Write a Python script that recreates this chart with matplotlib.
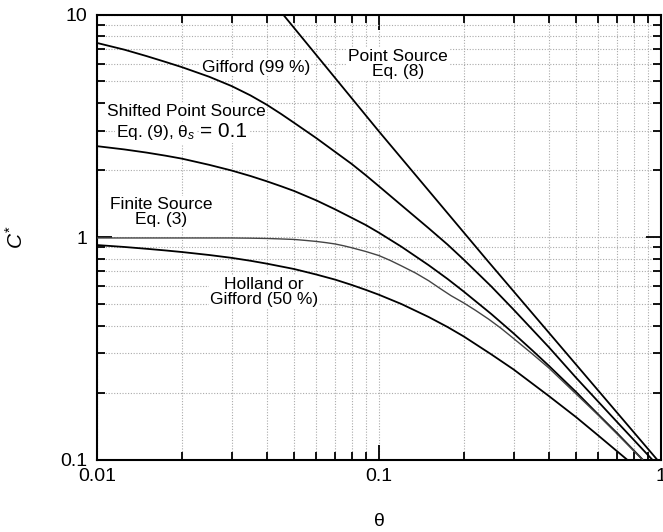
import numpy as np
import matplotlib
matplotlib.use("Agg")
import matplotlib.pyplot as plt
from matplotlib.ticker import LogLocator, NullFormatter

plt.rcParams['font.family'] = ['Liberation Sans', 'DejaVu Sans']
plt.rcParams['mathtext.fontset'] = 'custom'
plt.rcParams['mathtext.rm'] = 'Liberation Sans'
plt.rcParams['mathtext.it'] = 'Liberation Sans:italic'

# values (theta, C*)
point_theta = [0.0457, 0.1, 0.241, 0.968]
point_c = [10.0, 2.98, 0.79, 0.1]

gifford99_theta = [0.01, 0.0125, 0.015, 0.0175, 0.02, 0.025, 0.03, 0.035, 0.04, 0.045, 0.05,
                   0.06, 0.07, 0.08, 0.09, 0.1, 0.12, 0.15, 0.175, 0.2, 0.25, 0.3, 0.4, 0.5,
                   0.7, 0.93]
gifford99_c = [7.45, 6.95, 6.5, 6.12, 5.8, 5.25, 4.77, 4.33, 3.93, 3.57, 3.26,
               2.78, 2.41, 2.13, 1.89, 1.69, 1.39, 1.095, 0.925, 0.79, 0.6, 0.472, 0.32, 0.233,
               0.147, 0.1]

shifted_theta = [0.01, 0.0125, 0.015, 0.0175, 0.02, 0.025, 0.03, 0.035, 0.04, 0.045, 0.05,
                 0.06, 0.07, 0.08, 0.09, 0.1, 0.12, 0.15, 0.175, 0.2, 0.25, 0.3, 0.35, 0.4,
                 0.5, 0.6, 0.7, 0.86]
shifted_c = [2.56, 2.475, 2.395, 2.32, 2.25, 2.11, 1.99, 1.88, 1.78, 1.69, 1.61,
             1.46, 1.33, 1.22, 1.13, 1.045, 0.905, 0.747, 0.648, 0.568, 0.451, 0.369, 0.309,
             0.264, 0.201, 0.159, 0.131, 0.1]

finite_theta = [0.01, 0.02, 0.03, 0.035, 0.04, 0.045, 0.05, 0.055, 0.06, 0.065, 0.07, 0.075,
                0.08, 0.09, 0.1, 0.11, 0.12, 0.135, 0.15, 0.165, 0.18, 0.2, 0.22, 0.245, 0.27,
                0.3, 0.35, 0.4, 0.5, 0.6, 0.7, 0.86]
finite_c = [0.99, 0.99, 0.99, 0.988, 0.985, 0.98, 0.975, 0.965, 0.955, 0.943, 0.93, 0.913,
            0.895, 0.86, 0.825, 0.783, 0.742, 0.688, 0.636, 0.586, 0.545, 0.505, 0.468, 0.427,
            0.39, 0.35, 0.298, 0.258, 0.197, 0.158, 0.13, 0.1]

holland_theta = [0.01, 0.0125, 0.015, 0.0175, 0.02, 0.025, 0.03, 0.035, 0.04, 0.05, 0.06,
                 0.07, 0.08, 0.09, 0.1, 0.12, 0.15, 0.175, 0.2, 0.25, 0.3, 0.4, 0.5, 0.6, 0.757]
holland_c = [0.92, 0.902, 0.885, 0.87, 0.856, 0.83, 0.806, 0.782, 0.759, 0.718, 0.678,
             0.643, 0.609, 0.578, 0.55, 0.5, 0.437, 0.394, 0.357, 0.297, 0.254, 0.193, 0.155,
             0.128, 0.1]

xticks = [0.01, 0.1, 1]
xtick_labels = ['0.01', '0.1', '1']
yticks = [0.1, 1, 10]
ytick_labels = ['0.1', '1', '10']

fig = plt.figure(figsize=(6.63, 5.32), dpi=100)
ax = fig.add_axes([97 / 663, 1 - 459.5 / 532, (661 - 97) / 663, (459.5 - 14.5) / 532])
ax.set_xscale('log')
ax.set_yscale('log')
ax.set_xlim(0.01, 1)
ax.set_ylim(0.1, 10)

lw = 1.3
ax.plot(point_theta, point_c, color='black', lw=lw, zorder=3)
ax.plot(gifford99_theta, gifford99_c, color='black', lw=lw, zorder=3)
ax.plot(shifted_theta, shifted_c, color='black', lw=lw, zorder=3)
ax.plot(finite_theta, finite_c, color='#444444', lw=1.0, zorder=3)
ax.plot(holland_theta, holland_c, color='black', lw=lw, zorder=3)

ax.set_xticks(xticks, xtick_labels)
ax.set_yticks(yticks, ytick_labels)
ax.xaxis.set_minor_locator(LogLocator(base=10, subs=np.arange(2, 10)))
ax.yaxis.set_minor_locator(LogLocator(base=10, subs=np.arange(2, 10)))
ax.xaxis.set_minor_formatter(NullFormatter())
ax.yaxis.set_minor_formatter(NullFormatter())
ax.tick_params(which='both', direction='in', top=True, right=True, labelsize=14, width=1.3)
ax.tick_params(which='major', length=11)
ax.tick_params(which='minor', length=5.5)
ax.tick_params(axis='x', pad=6)
ax.tick_params(axis='y', pad=7)
for s in ax.spines.values():
    s.set_linewidth(1.5)

ax.set_axisbelow(True)
ax.grid(True, which='both', color='#aaaaaa', ls=(0, (1, 1.5)), lw=0.8)

ax.set_xlabel('θ', fontsize=14, labelpad=20)
ax.set_ylabel(r'$C^{*}$', fontsize=15, labelpad=24)

box = dict(facecolor='white', edgecolor='none', pad=1)
fs = 12.5
ax.text(0.0366, 5.8, 'Gifford (99 %)', fontsize=fs, ha='center', va='center', bbox=box, zorder=2)
ax.text(0.1168, 6.0, 'Point Source\nEq. (8)', fontsize=fs, ha='center', va='center',
        linespacing=1.0, bbox=box, zorder=2)
ax.text(0.0207, 3.65, 'Shifted Point Source', fontsize=fs, ha='center', va='center', bbox=box, zorder=2)
ax.text(0.0224, 2.81, r'Eq. (9), $\mathrm{\theta}_{s}$', fontsize=fs, ha='right', va='baseline',
        bbox=box, zorder=2)
ax.text(0.0232, 2.81, '= 0.1', fontsize=15, ha='left', va='baseline', bbox=box, zorder=2)
ax.text(0.01687, 1.295, 'Finite Source\nEq. (3)', fontsize=fs, ha='center', va='center',
        linespacing=1.0, bbox=box, zorder=2)
ax.text(0.0391, 0.566, 'Holland or\nGifford (50 %)', fontsize=fs, ha='center', va='center',
        linespacing=1.0, bbox=box, zorder=2)

fig.savefig('out.png', dpi=100)
